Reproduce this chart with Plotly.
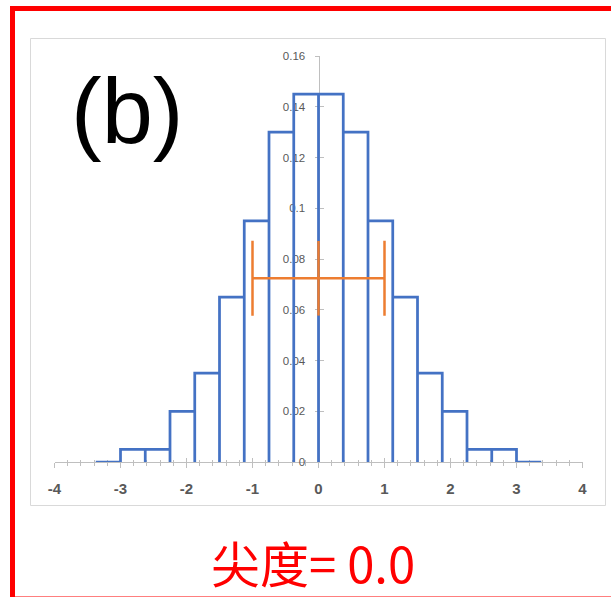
import plotly.graph_objects as go

# Histogram of a standard normal sample: bin edges and relative frequencies
bin_edges = [-3.375, -3.0, -2.625, -2.25, -1.875, -1.5, -1.125, -0.75, -0.375, 0.0,
             0.375, 0.75, 1.125, 1.5, 1.875, 2.25, 2.625, 3.0, 3.375]
freqs = [0.0, 0.005, 0.005, 0.02, 0.035, 0.065, 0.095, 0.13, 0.145,
         0.145, 0.13, 0.095, 0.065, 0.035, 0.02, 0.005, 0.005, 0.0]

# Mean ± one standard deviation marker
mean_x = 0.0
std_x = 1.0
marker_level = 0.0724
marker_half_height = 0.0147

# Axis ticks
x_tick_vals = [-4, -3, -2, -1, 0, 1, 2, 3, 4]
x_tick_text = ["-4", "-3", "-2", "-1", "0", "1", "2", "3", "4"]
y_tick_vals = [0, 0.02, 0.04, 0.06, 0.08, 0.10, 0.12, 0.14, 0.16]
y_tick_text = ["0", "0.02", "0.04", "0.06", "0.08", "0.1", "0.12", "0.14", "0.16"]

panel_label = "(b)"
kurtosis_label = "尖度= 0.0"

W, H = 611, 597
BLUE = "#4472C4"
ORANGE = "#ED7D31"
AXIS_GRAY = "#BFBFBF"
TEXT_GRAY = "#595959"


def px_x(p):
    return p / W


def px_y(p):
    return 1 - p / H


# Outline of every bin: up the left edge, across the top, down the right edge
step_x, step_y = [], []
for i, h in enumerate(freqs):
    left, right = bin_edges[i], bin_edges[i + 1]
    step_x += [left, left, right, right]
    step_y += [0, h, h, 0]

fig = go.Figure()
fig.add_trace(go.Scatter(
    x=step_x, y=step_y, mode="lines",
    line=dict(color=BLUE, width=2.75),
    showlegend=False, hoverinfo="skip",
))
fig.add_trace(go.Scatter(
    x=[mean_x], y=[marker_level], mode="markers",
    marker=dict(size=1, opacity=0),
    error_x=dict(type="data", array=[std_x], color=ORANGE, thickness=2.5, width=37.5),
    error_y=dict(type="data", array=[marker_half_height], color=ORANGE, thickness=2.5, width=0),
    showlegend=False, hoverinfo="skip",
))
# Companion trace for the overlay axes that draw the inner half of each tick
fig.add_trace(go.Scatter(x=[None], y=[None], xaxis="x2", yaxis="y2",
                         showlegend=False, hoverinfo="skip"))

x_dom = [px_x(54.5), px_x(582.5)]
y_dom = [px_y(462), px_y(56)]
y_axis_pos = (x_dom[0] + x_dom[1]) / 2

common_x = dict(
    range=[-4, 4], domain=x_dom, showgrid=False, zeroline=False,
    showline=True, linecolor=AXIS_GRAY, linewidth=1, automargin=False,
    tickmode="array", tickvals=x_tick_vals, tickcolor=AXIS_GRAY, tickwidth=1,
    layer="below traces", fixedrange=True,
)
common_y = dict(
    range=[0, 0.16], domain=y_dom, showgrid=False, zeroline=False,
    showline=True, linecolor=AXIS_GRAY, linewidth=1, automargin=False,
    tickmode="array", tickvals=y_tick_vals, tickcolor=AXIS_GRAY, tickwidth=1,
    anchor="free", position=y_axis_pos,
    layer="below traces", fixedrange=True,
)

fig.update_layout(
    width=W, height=H,
    margin=dict(l=0, r=0, t=0, b=0, pad=0, autoexpand=False),
    paper_bgcolor="white", plot_bgcolor="rgba(0,0,0,0)",
    xaxis=dict(
        **common_x, anchor="y", ticktext=x_tick_text,
        ticks="outside", ticklen=5, ticklabelstandoff=8,
        tickfont=dict(family="Liberation Sans", size=15, color=TEXT_GRAY, weight="bold"),
        minor=dict(dtick=0.2, ticks="outside", ticklen=3, tickcolor=AXIS_GRAY, showgrid=False),
    ),
    xaxis2=dict(
        **common_x, anchor="y", overlaying="x", showticklabels=False,
        ticks="inside", ticklen=4,
        minor=dict(dtick=0.2, ticks="inside", ticklen=2, tickcolor=AXIS_GRAY, showgrid=False),
    ),
    yaxis=dict(
        **common_y, ticktext=y_tick_text,
        ticks="outside", ticklen=4, ticklabelstandoff=7,
        tickfont=dict(family="Liberation Sans", size=11.5, color=TEXT_GRAY),
    ),
    yaxis2=dict(
        **common_y, overlaying="y", showticklabels=False,
        ticks="inside", ticklen=4,
    ),
    shapes=[
        # chart area border
        dict(type="rect", xref="paper", yref="paper",
             x0=px_x(30.5), x1=px_x(605.5), y0=px_y(505.5), y1=px_y(38.5),
             line=dict(color="#D9D9D9", width=1), layer="below"),
        # red outer frame
        dict(type="rect", xref="paper", yref="paper",
             x0=px_x(12.5), x1=px_x(620), y0=px_y(599), y1=px_y(8.5),
             line=dict(color="#FF0000", width=5), layer="above"),
    ],
    annotations=[
        dict(text=panel_label, xref="paper", yref="paper",
             x=px_x(69), y=px_y(111), xanchor="left", yanchor="middle",
             showarrow=False,
             font=dict(family="Liberation Sans", size=92, color="black")),
        dict(text=kurtosis_label, xref="paper", yref="paper",
             x=px_x(312.5), y=px_y(561), xanchor="center", yanchor="middle",
             showarrow=False,
             font=dict(family="Noto Sans CJK SC", size=49, color="#FF0000")),
    ],
)

fig.write_html("out.html")
